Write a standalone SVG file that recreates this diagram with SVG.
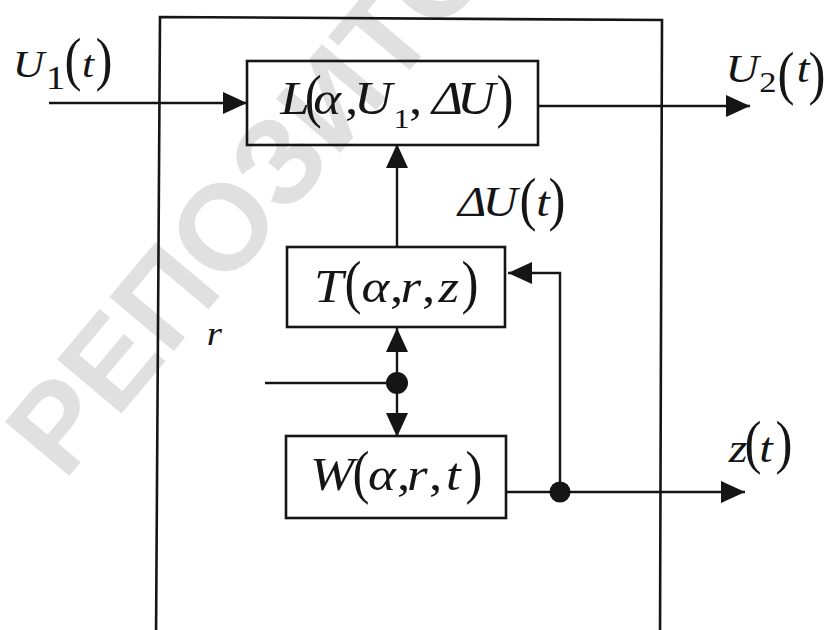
<svg xmlns="http://www.w3.org/2000/svg" width="830" height="630" viewBox="0 0 830 630">
<defs>
<style>
.box{fill:none;stroke:#151515;stroke-width:2.6}
.ln{fill:none;stroke:#151515;stroke-width:2.4}
.dot{fill:#151515;stroke:none}
.it{font-family:"Liberation Serif","Times New Roman",serif;font-style:italic;fill:#151515}
.up{font-family:"Liberation Serif","Times New Roman",serif;font-style:normal}
.par{font-family:"Liberation Serif","Times New Roman",serif;font-size:60px;fill:#151515}
.wm{font-family:"Liberation Sans",Arial,sans-serif;font-size:122px;font-weight:bold;fill:#e0e0e0}
</style>
<marker id="ah" markerUnits="userSpaceOnUse" markerWidth="24" markerHeight="22" refX="24" refY="11" orient="auto" viewBox="0 0 24 22">
<path d="M0,0 L24,11 L0,22 z" fill="#151515"/>
</marker>
</defs>
<rect width="830" height="630" fill="#ffffff"/>

<!-- background stamp -->
<text class="wm" transform="translate(64,482) rotate(-50)">РЕПОЗИТОРИЙ</text>

<!-- outer system boundary -->
<g id="frame">
<path class="box" d="M156,640 L160,17 L662,20 L660,640"/>
</g>

<g id="node-L">
<rect class="box" x="247" y="61" width="291" height="84"/>
<g transform="scale(1.15,1)">
<text class="it" font-size="46" y="114"><tspan x="243.8">L</tspan><tspan x="272.5">α</tspan><tspan class="up" x="300">,</tspan><tspan x="307.8">U</tspan><tspan class="up" x="342.1" y="128" font-size="28">1</tspan><tspan class="up" x="355.7" y="114">,</tspan><tspan x="375.7">Δ</tspan><tspan x="397.4">U</tspan></text>
</g>
<g transform="scale(0.85,1)">
<text class="par"><tspan x="358.4" y="116.4">(</tspan><tspan x="584.1" y="116.4">)</tspan></text>
</g>
</g>

<g id="node-T">
<rect class="box" x="287" y="247" width="218" height="80"/>
<g transform="scale(1.15,1)">
<text class="it" font-size="46" y="302"><tspan x="273">T</tspan><tspan x="314.3">α</tspan><tspan class="up" x="339.1">,</tspan><tspan x="348.3">r</tspan><tspan class="up" x="367">,</tspan><tspan x="381.3">z</tspan></text>
</g>
<g transform="scale(0.85,1)">
<text class="par"><tspan x="405.4" y="302">(</tspan><tspan x="542.9" y="302">)</tspan></text>
</g>
</g>

<g id="node-W">
<rect class="box" x="286" y="436" width="220" height="82"/>
<g transform="scale(1.15,1)">
<text class="it" font-size="46" y="490"><tspan x="269.6">W</tspan><tspan x="320">α</tspan><tspan class="up" x="345.2">,</tspan><tspan x="353.9">r</tspan><tspan class="up" x="373">,</tspan><tspan x="387.8">t</tspan></text>
</g>
<g transform="scale(0.85,1)">
<text class="par"><tspan x="414.8" y="492.5">(</tspan><tspan x="547.6" y="492.5">)</tspan></text>
</g>
</g>

<g id="connectors">
<path class="ln" d="M49,103 H247" marker-end="url(#ah)"/>
<path class="ln" d="M538,106 H750" marker-end="url(#ah)"/>
<path class="ln" d="M397,247 V144" marker-end="url(#ah)"/>
<path class="ln" d="M560,492 V273 H508" marker-end="url(#ah)"/>
<path class="ln" d="M265,383 H397"/>
<path class="ln" d="M397,383 V328" marker-end="url(#ah)"/>
<path class="ln" d="M397,383 V437" marker-end="url(#ah)"/>
<path class="ln" d="M506,492 H745" marker-end="url(#ah)"/>
<circle class="dot" cx="397" cy="383" r="11"/>
<circle class="dot" cx="560" cy="492" r="10.5"/>
</g>

<!-- signal labels -->
<g id="labels">
<g transform="scale(1.15,1)">
<text class="it" font-size="38" y="77"><tspan x="11">U</tspan><tspan class="up" x="39.7" y="89" font-size="34">1</tspan><tspan x="71.3" y="77">t</tspan></text>
<text class="it" font-size="40" y="82"><tspan x="630.8">U</tspan><tspan class="up" x="660.3" y="92" font-size="30">2</tspan><tspan x="692.8" y="82">t</tspan></text>
<text class="it" font-size="42" y="216"><tspan x="398.3">Δ</tspan><tspan x="419.7">U</tspan><tspan x="466.4">t</tspan></text>
<text class="it" font-size="42" y="462"><tspan x="633.7">z</tspan><tspan x="660.3">t</tspan></text>
<text class="it" font-size="34" x="179.7" y="345">r</text>
</g>
<g transform="scale(0.85,1)">
<text class="par"><tspan x="76" y="79.5">(</tspan><tspan x="112.4" y="79.5">)</tspan></text>
<text class="par"><tspan x="914.8" y="93">(</tspan><tspan x="951.2" y="93">)</tspan></text>
<text class="par"><tspan x="611.3" y="219.5">(</tspan><tspan x="645.3" y="219.5">)</tspan></text>
<text class="par"><tspan x="876" y="462.4">(</tspan><tspan x="912.4" y="462.4">)</tspan></text>
</g>
</g>
</svg>
